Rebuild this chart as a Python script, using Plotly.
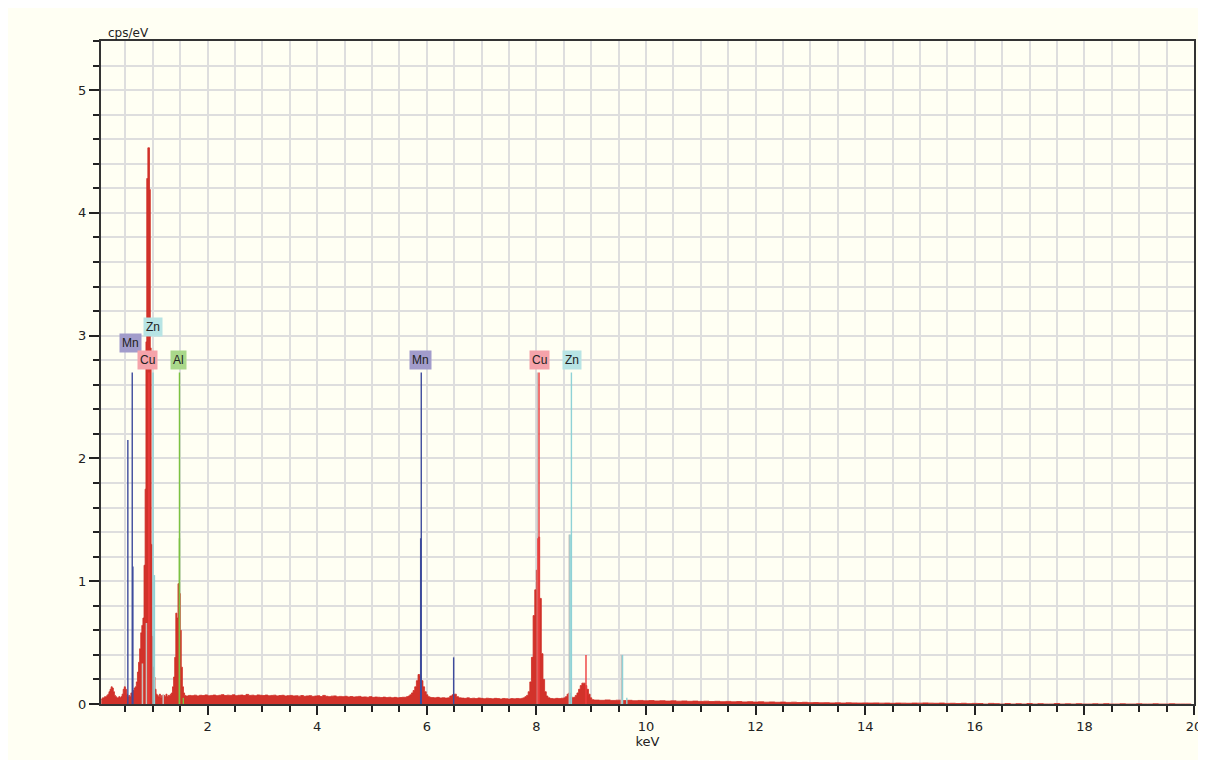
import numpy as np
import plotly.graph_objects as go

# ---------------- spectrum data (keV, cps/eV) ----------------
# low-energy region, channel step 0.02 keV starting at 0.06
seg_a_start, seg_a_step = 0.06, 0.02
seg_a_vals = [0.04, 0.05, 0.05, 0.06, 0.06, 0.07, 0.08, 0.10, 0.12, 0.14,
              0.13, 0.10, 0.07, 0.06, 0.05, 0.05, 0.06, 0.05, 0.06, 0.08,
              0.12, 0.14, 0.12, 0.08, 0.06, 0.07, 0.06, 0.09, 0.08, 0.11,
              0.13, 0.14, 0.18, 0.26, 0.34, 0.45, 0.58, 0.64, 0.70, 1.13]
# Cu L / Zn L main peak
peak_l_e = [0.86, 0.875, 0.89, 0.91, 0.94, 0.955, 0.97, 0.985, 1.00, 1.02, 1.04, 1.06]
peak_l_v = [1.75, 2.95, 4.28, 4.53, 4.19, 2.90, 1.30, 0.55, 0.30, 0.22, 0.12, 0.08]
# between L peak and Al
seg_b_start, seg_b_step = 1.08, 0.02
seg_b_vals = [0.07, 0.06, 0.08, 0.05, 0.07, 0.06, 0.07, 0.06, 0.08, 0.06, 0.07, 0.07, 0.08, 0.09]
# Al K peak
al_e = [1.36, 1.38, 1.40, 1.42, 1.44, 1.46, 1.48, 1.50, 1.52, 1.54, 1.56, 1.58]
al_v = [0.14, 0.22, 0.38, 0.74, 0.70, 0.98, 0.90, 0.60, 0.30, 0.14, 0.09, 0.07]
# continuum 1.6 - 5.55 keV
seg_c_start, seg_c_step = 1.60, 0.05
seg_c_vals = [0.065, 0.070, 0.068, 0.072, 0.066, 0.071, 0.069, 0.074, 0.067, 0.070,
              0.073, 0.068, 0.071, 0.076, 0.069, 0.072, 0.070, 0.075, 0.068, 0.071,
              0.073, 0.069, 0.078, 0.070, 0.072, 0.068, 0.074, 0.071, 0.069, 0.073,
              0.067, 0.070, 0.072, 0.066, 0.069, 0.071, 0.065, 0.068, 0.070, 0.066,
              0.067, 0.064, 0.069, 0.063, 0.066, 0.068, 0.062, 0.065, 0.067, 0.061,
              0.070, 0.063, 0.060, 0.064, 0.066, 0.059, 0.062, 0.060, 0.063, 0.058,
              0.061, 0.057, 0.059, 0.062, 0.056, 0.058, 0.055, 0.060, 0.054, 0.057,
              0.055, 0.053, 0.056, 0.052, 0.055, 0.051, 0.054, 0.050, 0.053, 0.055]
# Mn K alpha
mn_ka_start, mn_ka_step = 5.60, 0.03
mn_ka_vals = [0.055, 0.06, 0.065, 0.075, 0.09, 0.11, 0.14, 0.19, 0.24, 0.23,
              0.19, 0.14, 0.10, 0.075, 0.06, 0.055]
seg_d_start, seg_d_step = 6.08, 0.05
seg_d_vals = [0.052, 0.05, 0.054, 0.049, 0.051, 0.048, 0.05]
# Mn K beta
mn_kb_e = [6.42, 6.46, 6.50, 6.54, 6.58]
mn_kb_v = [0.065, 0.075, 0.08, 0.06, 0.05]
seg_e_start, seg_e_step = 6.63, 0.05
seg_e_vals = [0.048, 0.046, 0.05, 0.045, 0.047, 0.044, 0.049, 0.046, 0.043, 0.047,
              0.045, 0.042, 0.046, 0.044, 0.041, 0.045, 0.043, 0.04, 0.044, 0.042,
              0.045, 0.043, 0.047]
# Cu K alpha
cu_ka_start, cu_ka_step = 7.76, 0.03
cu_ka_vals = [0.05, 0.06, 0.07, 0.10, 0.18, 0.38, 0.72, 0.93, 1.09, 1.36,
              0.86, 0.41, 0.20, 0.10, 0.065, 0.05]
seg_f_start, seg_f_step = 8.25, 0.05
seg_f_vals = [0.045, 0.042, 0.046, 0.044, 0.047, 0.05]
# Zn K alpha / Cu K beta
seg_g_start, seg_g_step = 8.53, 0.03
seg_g_vals = [0.06, 0.08, 0.09, 0.06, 0.05, 0.055, 0.07, 0.09, 0.12, 0.15,
              0.17, 0.17, 0.15, 0.12, 0.08, 0.05, 0.035]
# high-energy tail
seg_h_start, seg_h_step = 9.05, 0.1
seg_h_vals = [0.032, 0.03, 0.033, 0.029, 0.031, 0.028, 0.03, 0.027, 0.029, 0.026,
              0.028, 0.025, 0.027, 0.024, 0.026, 0.023, 0.025, 0.022, 0.024, 0.021,
              0.023, 0.02, 0.022, 0.019, 0.021, 0.018, 0.02, 0.017, 0.019, 0.016,
              0.018, 0.015, 0.017, 0.014, 0.016, 0.013, 0.015, 0.012, 0.014, 0.011,
              0.012, 0.010, 0.011, 0.009, 0.010, 0.008, 0.010, 0.009, 0.008, 0.009,
              0.008, 0.009, 0.007, 0.008, 0.006, 0.008, 0.007, 0.006, 0.008, 0.007,
              0.009, 0.007, 0.006, 0.008, 0.005, 0.006, 0.004, 0.006, 0.003, 0.005,
              0.004, 0.0, 0.005, 0.003, 0.0, 0.004, 0.0, 0.003, 0.0, 0.004,
              0.0, 0.003, 0.0, 0.0, 0.004, 0.0, 0.002, 0.0, 0.003, 0.0,
              0.0, 0.002, 0.0, 0.003, 0.0, 0.0, 0.002, 0.0, 0.0, 0.002,
              0.0, 0.0, 0.002, 0.0, 0.0, 0.002, 0.0, 0.0, 0.0, 0.0]

# ---------------- element marker lines ----------------
element_names = ["Mn", "Cu", "Zn", "Al"]
element_colors = ["#3d4b9c", "#ee3d3d", "#8fd2d6", "#7cc242"]
label_bg = ["#a29ccb", "#f5a3aa", "#b7e4e4", "#a9d88a"]
line_energies = {
    "Mn": [0.545, 0.625, 0.637, 5.888, 5.899, 6.490],
    "Cu": [0.930, 8.028, 8.048, 8.905],
    "Zn": [1.005, 1.030, 8.616, 8.639, 9.572, 9.65],
    "Al": [1.486, 1.487, 1.557],
}
line_heights = {
    "Mn": [2.15, 2.70, 1.12, 1.35, 2.70, 0.38],
    "Cu": [2.70, 1.35, 2.70, 0.40],
    "Zn": [2.70, 1.05, 1.38, 2.70, 0.40, 0.05],
    "Al": [1.35, 2.70, 0.05],
}
minor_line_energies = [0.811, 0.884, 1.19, 8.02, 8.60, 9.55]
minor_line_heights = [0.33, 0.66, 0.08, 2.70, 1.38, 0.40]

# label positions (keV, cps/eV)
label_text = ["Mn", "Zn", "Cu", "Al", "Mn", "Cu", "Zn"]
label_x = [0.60, 1.00, 0.91, 1.47, 5.89, 8.05, 8.65]
label_y = [2.94, 3.07, 2.80, 2.80, 2.80, 2.80, 2.80]


def seg(start, step, vals):
    return [round(start + i * step, 4) for i in range(len(vals))], list(vals)


parts = [
    seg(seg_a_start, seg_a_step, seg_a_vals),
    (peak_l_e, peak_l_v),
    seg(seg_b_start, seg_b_step, seg_b_vals),
    (al_e, al_v),
    seg(seg_c_start, seg_c_step, seg_c_vals),
    seg(mn_ka_start, mn_ka_step, mn_ka_vals),
    seg(seg_d_start, seg_d_step, seg_d_vals),
    (mn_kb_e, mn_kb_v),
    seg(seg_e_start, seg_e_step, seg_e_vals),
    seg(cu_ka_start, cu_ka_step, cu_ka_vals),
    seg(seg_f_start, seg_f_step, seg_f_vals),
    seg(seg_g_start, seg_g_step, seg_g_vals),
    seg(seg_h_start, seg_h_step, seg_h_vals),
]
spec_e, spec_v = [], []
for e, v in parts:
    spec_e += e
    spec_v += v

BG = "#fffff3"
GRID = "#dedede"
FONT = "DejaVu Sans"

fig = go.Figure()
fig.add_trace(go.Scatter(
    x=spec_e, y=spec_v, mode="lines", line=dict(color="#cf2c25", width=0.8, shape="hv"),
    fill="tozeroy", fillcolor="#d2322a", hoverinfo="skip", showlegend=False))

# minor (grey) lines
mx, my = [], []
for e, h in zip(minor_line_energies, minor_line_heights):
    mx += [e, e, None]
    my += [0, h, None]
fig.add_trace(go.Scatter(x=mx, y=my, mode="lines", line=dict(color="#c9c0bd", width=1.5),
                         hoverinfo="skip", showlegend=False))

for name, col in zip(element_names, element_colors):
    xs, ys = [], []
    for e, h in zip(line_energies[name], line_heights[name]):
        xs += [e, e, None]
        ys += [0, h, None]
    fig.add_trace(go.Scatter(x=xs, y=ys, mode="lines", line=dict(color=col, width=1.4),
                             hoverinfo="skip", showlegend=False))

bg_map = dict(zip(element_names, label_bg))
for t, x, y in zip(label_text, label_x, label_y):
    fig.add_annotation(x=x, y=y, xref="x", yref="y", text=t, showarrow=False,
                       bgcolor=bg_map[t], borderpad=2,
                       font=dict(family="Liberation Sans", size=12, color="#222"))

fig.add_annotation(xref="paper", yref="paper", x=0, y=1, xanchor="left", yanchor="bottom",
                   xshift=5, yshift=-1, text="cps/eV", showarrow=False,
                   font=dict(family=FONT, size=12, color="#222"))

fig.update_xaxes(
    range=[0.055, 20], showgrid=True, gridcolor=GRID, gridwidth=1.5,
    tick0=0, dtick=2, ticks="outside", ticklen=9, tickwidth=1.5, tickcolor="#222",
    minor=dict(dtick=0.5, tick0=0, showgrid=True, gridcolor=GRID, gridwidth=1.5,
               ticks="outside", ticklen=6, tickwidth=1.5, tickcolor="#222"),
    showline=True, linecolor="#333", linewidth=2, mirror=True, zeroline=False,
    tickfont=dict(family=FONT, size=13, color="#222"),
    title=dict(text="keV", font=dict(family=FONT, size=13, color="#222"), standoff=2),
)
fig.update_yaxes(
    range=[0, 5.4], showgrid=True, gridcolor=GRID, gridwidth=1.5,
    tick0=0, dtick=1, ticks="outside", ticklen=10, tickwidth=1.5, tickcolor="#222",
    minor=dict(dtick=0.2, tick0=0, showgrid=True, gridcolor=GRID, gridwidth=1.5,
               ticks="outside", ticklen=6, tickwidth=1.5, tickcolor="#222"),
    showline=True, linecolor="#333", linewidth=2, mirror=True, zeroline=False,
    tickfont=dict(family=FONT, size=13, color="#222"),
)
fig.update_layout(
    width=1206, height=760, paper_bgcolor=BG, plot_bgcolor=BG,
    margin=dict(l=93, r=14, t=33, b=64), showlegend=False,
)
fig.write_html("out.html")
